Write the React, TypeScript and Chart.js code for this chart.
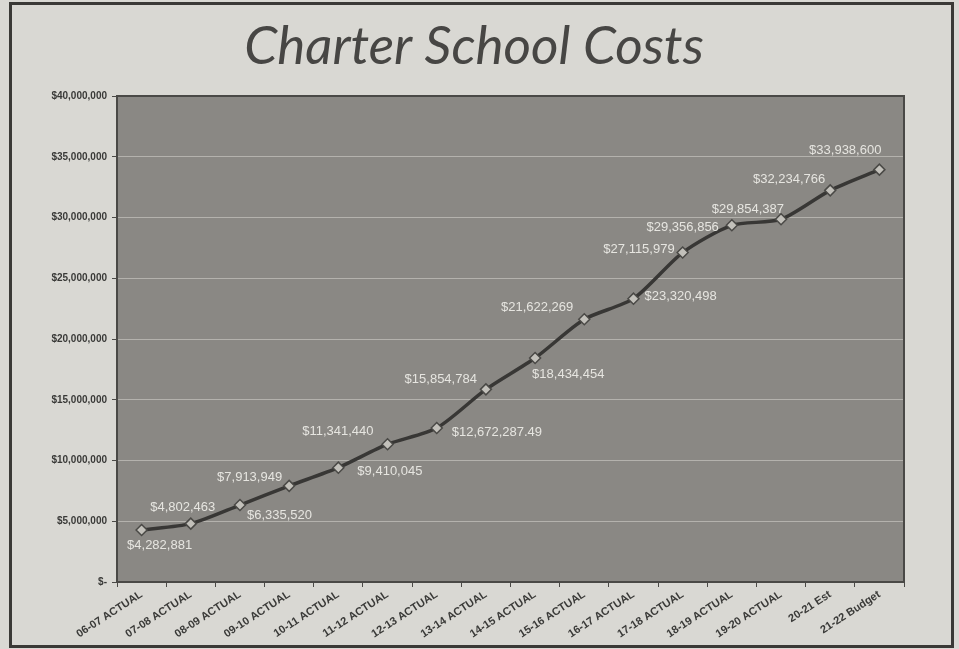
import { useEffect, useRef } from "react";
import { Chart, registerables } from "chart.js";

Chart.register(...registerables);

const categories = [
  "06-07 ACTUAL",
  "07-08 ACTUAL",
  "08-09 ACTUAL",
  "09-10 ACTUAL",
  "10-11 ACTUAL",
  "11-12 ACTUAL",
  "12-13 ACTUAL",
  "13-14 ACTUAL",
  "14-15 ACTUAL",
  "15-16 ACTUAL",
  "16-17 ACTUAL",
  "17-18 ACTUAL",
  "18-19 ACTUAL",
  "19-20 ACTUAL",
  "20-21 Est",
  "21-22 Budget",
];

const costs = [
  4282881, 4802463, 6335520, 7913949, 9410045, 11341440, 12672287.49, 15854784,
  18434454, 21622269, 23320498, 27115979, 29356856, 29854387, 32234766, 33938600,
];

const yMin = 0;
const yMax = 40000000;
const yStep = 5000000;

const titleText = "Charter School Costs";

// label placement relative to each point: [align, dx, dy]
const labelPlacement: [CanvasTextAlign, number, number][] = [
  ["center", 18, 15],
  ["center", -8, -16],
  ["left", 7, 10],
  ["right", -7, -8],
  ["left", 19, 4],
  ["right", -14, -13],
  ["left", 15, 4],
  ["right", -9, -10],
  ["left", -3, 16],
  ["right", -11, -12],
  ["left", 11, -2],
  ["right", -8, -3],
  ["right", -13, 2],
  ["right", 3, -10],
  ["right", -5, -11],
  ["right", 2, -19],
];

const PAPER = "#d9d8d3";
const PLOT = "#8a8884";
const INK = "#383735";

function fmtMoney(v: number): string {
  const hasCents = !Number.isInteger(v);
  return (
    "$" +
    v.toLocaleString("en-US", {
      minimumFractionDigits: hasCents ? 2 : 0,
      maximumFractionDigits: hasCents ? 2 : 0,
    })
  );
}

const framePlugin = {
  id: "frame",
  beforeDraw(chart: any) {
    const { ctx, chartArea, width, height } = chart;
    ctx.save();
    ctx.fillStyle = PAPER;
    ctx.fillRect(0, 0, width, height);
    ctx.strokeStyle = "#3a3936";
    ctx.lineWidth = 3;
    ctx.strokeRect(10.5, 3.5, 942, 643);
    ctx.fillStyle = PLOT;
    ctx.fillRect(chartArea.left, chartArea.top, chartArea.right - chartArea.left, chartArea.bottom - chartArea.top);
    // title
    ctx.fillStyle = "#474644";
    ctx.font = "italic 53px Lato, 'Open Sans', sans-serif";
    ctx.textAlign = "center";
    ctx.textBaseline = "alphabetic";
    ctx.fillText(titleText, 474, 64);
    ctx.restore();
  },
  beforeDatasetsDraw(chart: any) {
    const { ctx, chartArea } = chart;
    ctx.save();
    ctx.strokeStyle = "#4a4946";
    ctx.lineWidth = 2;
    ctx.strokeRect(chartArea.left, chartArea.top, chartArea.right - chartArea.left, chartArea.bottom - chartArea.top);
    ctx.restore();
  },
};

const valueLabelPlugin = {
  id: "valueLabels",
  afterDatasetsDraw(chart: any) {
    const { ctx } = chart;
    const meta = chart.getDatasetMeta(0);
    ctx.save();
    ctx.font = "13px 'Liberation Sans', Arial, sans-serif";
    ctx.fillStyle = "#e6e5e0";
    ctx.textBaseline = "middle";
    meta.data.forEach((pt: any, i: number) => {
      const [align, dx, dy] = labelPlacement[i];
      ctx.textAlign = align;
      ctx.fillText(fmtMoney(costs[i]), pt.x + dx, pt.y + dy);
    });
    ctx.restore();
  },
};

export default function App() {
  const ref = useRef<HTMLCanvasElement | null>(null);

  useEffect(() => {
    document.body.style.margin = "0";
    const canvas = ref.current;
    if (!canvas) return;
    const chart = new Chart(canvas, {
      type: "line",
      data: {
        labels: categories,
        datasets: [
          {
            data: costs,
            borderColor: INK,
            borderWidth: 3.5,
            tension: 0.25,
            pointStyle: "rectRot",
            pointRadius: 5.5,
            pointBackgroundColor: "#c2c0ba",
            pointBorderColor: "#4a4946",
            pointBorderWidth: 1.5,
            fill: false,
          },
        ],
      },
      options: {
        animation: false,
        responsive: false,
        events: [],
        layout: { padding: { left: 0, right: 55, top: 96, bottom: 0 } },
        plugins: {
          legend: { display: false },
          tooltip: { enabled: false },
          title: { display: false },
        },
        scales: {
          x: {
            type: "category",
            offset: true,
            grid: {
              offset: true,
              drawOnChartArea: false,
              drawTicks: true,
              tickLength: 5,
              tickColor: "#4a4946",
            },
            border: { display: true, color: "#4a4946", width: 2 },
            ticks: {
              autoSkip: false,
              minRotation: 33,
              maxRotation: 33,
              padding: 1,
              color: "#3a3a38",
              font: { family: "'Liberation Sans', Arial, sans-serif", weight: "bold", size: 11 },
            },
            afterFit(scale: any) {
              scale.height = 67;
            },
          },
          y: {
            min: yMin,
            max: yMax,
            grid: {
              color: "#b4b2ad",
              lineWidth: 1,
              tickLength: 5,
              tickColor: "#4a4946",
            },
            border: { display: true, color: "#4a4946", width: 2 },
            ticks: {
              stepSize: yStep,
              padding: 5,
              color: "#3a3a38",
              font: { family: "'Liberation Sans', Arial, sans-serif", weight: "bold", size: 10 },
              callback: (v: any) => (Number(v) === 0 ? "$-" : "$" + Number(v).toLocaleString("en-US")),
            },
            afterFit(scale: any) {
              scale.width = 117;
            },
          },
        },
      },
      plugins: [framePlugin, valueLabelPlugin],
    });
    return () => chart.destroy();
  }, []);

  return (
    <div style={{ position: "fixed", left: 0, top: 0, width: 959, height: 649, background: PAPER }}>
      <canvas ref={ref} width={959} height={649} style={{ display: "block", width: 959, height: 649 }} />
    </div>
  );
}
